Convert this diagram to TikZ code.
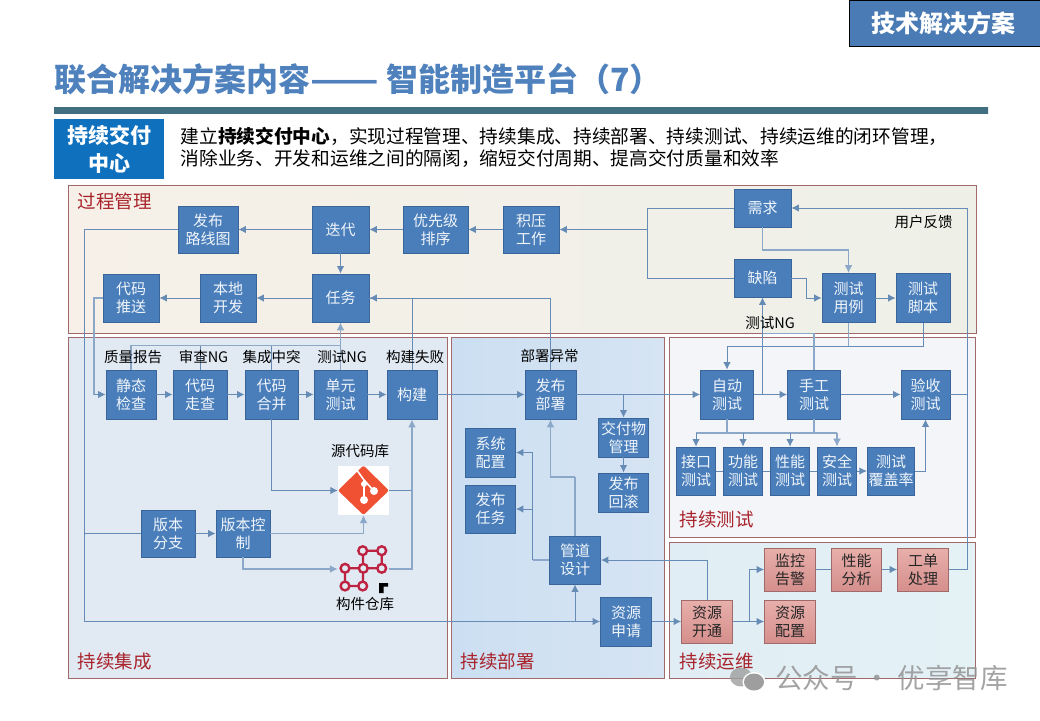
\documentclass[tikz,border=0pt]{standalone}
\usepackage{fontspec}
\setmainfont{Noto Sans CJK SC}
\usepackage{tikz}
\usepackage{xcolor}
\usetikzlibrary{arrows.meta}

\definecolor{boxblue}{HTML}{4A7EBB}
\definecolor{boxedge}{HTML}{3A659A}
\definecolor{flowblue}{HTML}{668CB5}
\definecolor{widelight}{HTML}{8CA8C8}
\definecolor{paneledge}{HTML}{A06A6A}
\definecolor{titlered}{HTML}{A8232B}
\definecolor{headblue}{HTML}{4F81BD}
\definecolor{nexusred}{HTML}{BE2342}
\definecolor{pinktop}{HTML}{E8AFAB}
\definecolor{pinkbottom}{HTML}{D58F8C}
\definecolor{ruleside}{HTML}{3F6F80}
\definecolor{rulemid}{HTML}{4E9CB0}
\definecolor{leadblue}{HTML}{0F70BE}
\definecolor{gitorange}{HTML}{F05133}
\definecolor{panelci}{HTML}{E1E9F3}

\tikzset{
  panelbox/.style={draw=paneledge, line width=0.9pt, inner sep=0pt},
  paneltitle/.style={text=titlered, font=\fontsize{18.5}{22}\selectfont, inner sep=0pt},
  flowbox/.style={draw=boxedge, fill=boxblue, text=white!92!boxblue, line width=0.8pt, inner sep=0pt,
    align=center, font=\fontsize{15}{18}\selectfont},
  pinkbox/.style={draw=paneledge, top color=pinktop, bottom color=pinkbottom,
    text=black!85, line width=0.8pt, inner sep=0pt, align=center, font=\fontsize{15}{18}\selectfont},
  tag/.style={text=black, font=\fontsize{14.5}{17}\selectfont, inner sep=0pt},
  iconbox/.style={inner sep=0pt, minimum width=51, minimum height=49},
  flow/.style={draw=flowblue, line width=1pt},
  flowto/.style={flow, -{Latex[length=7.5pt,width=7.5pt]}},
  wide/.style={draw=widelight, line width=1.6pt},
  wideto/.style={wide, -{Latex[length=8pt,width=8pt]}},
  nexusdot/.style={draw=nexusred, line width=2.4pt, fill=panelci}
}

\begin{document}
\begin{tikzpicture}[x=1pt,y=-1pt]
        \useasboundingbox (0,0) rectangle (1040,720);

        % Draw the header
        \node[draw=black, fill=headblue!95!black, minimum width=191, minimum height=46, inner sep=0pt, line width=0.7pt] (headbox) at (944.5,23) {};
        \node[text=white, font=\fontsize{24}{28}\selectfont\bfseries, inner sep=0pt] (headtext) at (943.5,23) {技术解决方案};
        \node[anchor=west, text=headblue, font=\fontsize{32}{38}\selectfont\bfseries, inner sep=0pt] (pagetitle) at (54,79) {联合解决方案内容\scalebox{1.25}[1]{——} 智能制造平台（7）};
        \fill[left color=ruleside, middle color=rulemid, right color=ruleside] (54,107) rectangle (988,113);
        \node[fill=leadblue, text=white, minimum width=110, minimum height=60, inner sep=0pt, align=center,
          font=\fontsize{21}{28}\selectfont\bfseries] (leadbox) at (109,149) {持续交付\\中心};
        \node[anchor=north west, inner sep=0pt, align=left, font=\fontsize{18.7}{22}\selectfont] (leadtext) at (180.5,127) {建立\textbf{持续交付中心}，实现过程管理、持续集成、持续部署、持续测试、持续运维的闭环管理，\\消除业务、开发和运维之间的隔阂，缩短交付周期、提高交付质量和效率};

        % Draw the panels
        \node[panelbox, left color={rgb,255:red,246;green,240;blue,232}, right color={rgb,255:red,238;green,240;blue,232}, minimum width=908, minimum height=148] (panelproc) at (522,259) {};
        \node[panelbox, fill=panelci, minimum width=379, minimum height=341] (panelcibox) at (257.5,507.5) {};
        \node[panelbox, left color={rgb,255:red,204;green,223;blue,242}, right color={rgb,255:red,214;green,228;blue,243}, minimum width=213, minimum height=341] (paneldep) at (558,507.5) {};
        \node[panelbox, fill={rgb,255:red,243;green,245;blue,248}, minimum width=306, minimum height=200] (paneltest) at (822.5,437) {};
        \node[panelbox, left color={rgb,255:red,224;green,237;blue,244}, right color={rgb,255:red,228;green,241;blue,245}, minimum width=306, minimum height=135.5] (panelops) at (822.5,610.5) {};

        % Panel titles
        \node[paneltitle] (titleproc) at (114.5,201) {过程管理};
        \node[paneltitle] (titleci) at (114.5,661) {持续集成};
        \node[paneltitle] (titledep) at (497.5,661) {持续部署};
        \node[paneltitle] (titletest) at (716.5,519) {持续测试};
        \node[paneltitle] (titleops) at (716.5,661) {持续运维};

        % Process row boxes
        \node[flowbox, minimum width=60, minimum height=47] (roadmap) at (208,229.5) {发布\\路线图};
        \node[flowbox, minimum width=57, minimum height=47] (iterate) at (340.5,229.5) {迭代};
        \node[flowbox, minimum width=65, minimum height=47] (priority) at (435.5,229.5) {优先级\\排序};
        \node[flowbox, minimum width=56, minimum height=47] (backlog) at (531,229.5) {积压\\工作};
        \node[flowbox, minimum width=56, minimum height=48] (pushcode) at (131,298) {代码\\推送};
        \node[flowbox, minimum width=56, minimum height=48] (localdev) at (228,298) {本地\\开发};
        \node[flowbox, minimum width=57, minimum height=48] (task) at (340.5,298) {任务};
        \node[flowbox, minimum width=57, minimum height=38] (demand) at (762.5,208) {需求};
        \node[flowbox, minimum width=57, minimum height=38] (defect) at (762.5,278) {缺陷};
        \node[flowbox, minimum width=53, minimum height=49] (testcase) at (848.5,298) {测试\\用例};
        \node[flowbox, minimum width=54, minimum height=49] (testscript) at (923,298) {测试\\脚本};

        % Integration boxes
        \node[flowbox, minimum width=50, minimum height=49] (staticchk) at (131,394.5) {静态\\检查};
        \node[flowbox, minimum width=54, minimum height=49] (review) at (200,394.5) {代码\\走查};
        \node[flowbox, minimum width=53, minimum height=49] (merge) at (271.5,394.5) {代码\\合并};
        \node[flowbox, minimum width=53, minimum height=49] (unittest) at (340.5,394.5) {单元\\测试};
        \node[flowbox, minimum width=50, minimum height=49] (build) at (412,394.5) {构建};
        \node[flowbox, minimum width=54, minimum height=47] (branch) at (168,533.5) {版本\\分支};
        \node[flowbox, minimum width=54, minimum height=47] (verctrl) at (243,533.5) {版本控\\制};

        % Deployment boxes
        \node[flowbox, minimum width=51, minimum height=49] (deploy) at (550.5,394.5) {发布\\部署};
        \node[flowbox, minimum width=50, minimum height=39] (delivery) at (623.5,437.5) {交付物\\管理};
        \node[flowbox, minimum width=50, minimum height=39] (rollback) at (623.5,492.5) {发布\\回滚};
        \node[flowbox, minimum width=50, minimum height=49] (sysconf) at (490.5,452.5) {系统\\配置};
        \node[flowbox, minimum width=50, minimum height=48] (pubtask) at (490.5,509) {发布\\任务};
        \node[flowbox, minimum width=51, minimum height=48] (pipeline) at (575,560) {管道\\设计};
        \node[flowbox, minimum width=51, minimum height=49] (resreq) at (626,621.5) {资源\\申请};

        % Test boxes
        \node[flowbox, minimum width=53, minimum height=49] (autotest) at (727,394.5) {自动\\测试};
        \node[flowbox, minimum width=53, minimum height=49] (manualtest) at (814,394.5) {手工\\测试};
        \node[flowbox, minimum width=49, minimum height=49] (acceptance) at (925.5,394.5) {验收\\测试};
        \node[flowbox, minimum width=39, minimum height=48] (apitest) at (696,471) {接口\\测试};
        \node[flowbox, minimum width=39, minimum height=48] (functest) at (743,471) {功能\\测试};
        \node[flowbox, minimum width=39, minimum height=48] (perftest) at (790,471) {性能\\测试};
        \node[flowbox, minimum width=39, minimum height=48] (sectest) at (837,471) {安全\\测试};
        \node[flowbox, minimum width=47.5, minimum height=48] (coverage) at (891,471) {测试\\覆盖率};

        % Operations boxes
        \node[pinkbox, minimum width=51, minimum height=43] (resopen) at (707,621.5) {资源\\开通};
        \node[pinkbox, minimum width=51, minimum height=43] (resconf) at (790,621.5) {资源\\配置};
        \node[pinkbox, minimum width=51, minimum height=43] (monitor) at (790,569.5) {监控\\告警};
        \node[pinkbox, minimum width=50, minimum height=43] (perfan) at (856.5,569.5) {性能\\分析};
        \node[pinkbox, minimum width=51, minimum height=43] (ticket) at (923,569.5) {工单\\处理};

        % Repository icons
        \node[iconbox, fill=white] (gitrepo) at (363.5,490.5) {};
        \fill[gitorange, rounded corners=2pt] (363.5,465.5) -- (389,490.5) -- (363.5,515) -- (338,490.5) -- cycle;
        \draw[white, line width=1.6pt] (356,469) -- (364,480) -- (364,500);
        \draw[white, line width=1.6pt] (364,480) -- (374,491);
        \fill[white] (364,500) circle (4);
        \fill[white] (374,491) circle (4);
        \fill[white] (364,484) circle (3);
        \node[iconbox] (nexusrepo) at (363.5,569) {};
        \draw[nexusred, line width=2.2pt] (362.7,550.7) -- (381.7,550.7) -- (381.7,568.3) -- (363.3,568.3) -- (362.7,550.7);
        \draw[nexusred, line width=2.2pt] (345,568.3) -- (363.3,568.3) -- (362.7,586) -- (345,586) -- cycle;
        \foreach \dotx/\doty in {362.7/550.7, 381.7/550.7, 345/568.3, 363.3/568.3, 381.7/568.3, 345/586, 362.7/586}
          \draw[nexusdot] (\dotx,\doty) circle (4.4);
        \fill[black] (379,583) -- (388,583) -- (388,586.5) -- (383.5,586.5) -- (383.5,593) -- (379,593) -- cycle;

        % Junctions of the lines
        \coordinate (railcorner) at (84,621.5);
        \coordinate (pushturn) at (94,394.5);
        \coordinate (ngbus) at (340.5,345.5);
        \coordinate (buildside) at (412,490.5);
        \coordinate (backturn) at (647.5,229.5);
        \coordinate (feedback) at (967,208);
        \coordinate (caseturn) at (848.5,250);
        \coordinate (defectturn) at (806,298);
        \coordinate (scriptbus) at (727,346);
        \coordinate (ngturn) at (762.5,333.5);
        \coordinate (testbus) at (727,433);
        \coordinate (pipeturn) at (575,477);
        \coordinate (pipeside) at (532.5,560);
        \coordinate (opsturn) at (749,569.5);

        % Process lines
        \draw[flowto] (iterate) -- (roadmap);
        \draw[flowto] (priority) -- (iterate);
        \draw[flowto] (backlog) -- (priority);
        \draw[flowto] (iterate) -- (task);
        \draw[flowto] (task) -- (localdev);
        \draw[flowto] (localdev) -- (pushcode);
        \draw[flow] (roadmap.west) -| (railcorner);
        \draw[flowto] (railcorner) -- (resreq.west);
        \draw[flow] (railcorner |- branch.west) -- (branch.west);
        \draw[flowto] (demand.west) -| (backturn) -- (backlog.east);
        \draw[flow] (defect.west) -| (backturn);
        \draw[wideto] (demand.south) |- (caseturn) -- (testcase.north);
        \draw[flow] (defect.east) -- (defect.east -| defectturn) -- (defectturn);
        \draw[flowto] (defectturn) -- (testcase.west);
        \draw[flowto] (testcase) -- (testscript);

        % Integration lines
        \draw[wide] (pushcode.west) -| (pushturn);
        \draw[flowto] (pushturn) -- (staticchk.west);
        \draw[flowto] (staticchk) -- (review);
        \draw[flowto] (review) -- (merge);
        \draw[flowto] (merge) -- (unittest);
        \draw[flowto] (unittest) -- (build);
        \draw[wide] (staticchk.north) |- (ngbus);
        \draw[flow] (review.north) -- (review.north |- ngbus);
        \draw[flow] (merge.north) -- (merge.north |- ngbus);
        \draw[wideto] (unittest.north) -- (task.south);
        \draw[flowto] (build.north) |- (task.east);
        \draw[flowto] (branch) -- (verctrl);
        \draw[wideto] (verctrl.east) -| (gitrepo.south);
        \draw[wideto] (verctrl.south) |- (nexusrepo.west);
        \draw[flowto] (merge.south) |- (gitrepo.west);
        \draw[flow] (gitrepo.east) -- (buildside);
        \draw[wide] (nexusrepo.east) -| (buildside);
        \draw[wideto] (buildside) -- (build.south);

        % Deployment lines
        \draw[flowto] (build) -- (deploy);
        \draw[flowto] (deploy) -- (autotest);
        \draw[flow] (deploy.north) |- (task.east);
        \draw[flowto] (deploy.east -| delivery.north) -- (delivery.north);
        \draw[flowto] (delivery) -- (rollback);
        \draw[wide] (pipeline.north) -- (pipeturn);
        \draw[wideto] (pipeturn) -| (deploy.south);
        \draw[wide] (pipeline.west) -- (pipeside);
        \draw[flowto] (pipeside) |- (sysconf.east);
        \draw[flowto] (pipeside |- pubtask.east) -- (pubtask.east);
        \draw[flowto] (pipeline.south |- railcorner) -- (pipeline.south);
        \draw[flowto] (resopen.north) |- (pipeline.east);
        \draw[flowto] (resreq) -- (resopen);

        % Test lines
        \draw[flow] (testscript.south) |- (testcase.south |- scriptbus);
        \draw[wide] (testcase.south) -- (testcase.south |- scriptbus);
        \draw[flowto] (testcase.south |- scriptbus) -- (scriptbus) -- (autotest.north);
        \draw[flowto] (autotest) -- (manualtest);
        \draw[flowto] (manualtest) -- (acceptance);
        \draw[flowto] (ngturn |- autotest.east) -- (defect.south);
        \draw[wide] (manualtest.north) |- (ngturn);
        \draw[wide] (autotest.south) -- (testbus);
        \draw[wide] (manualtest.south) -- (manualtest.south |- testbus);
        \draw[wide] (apitest.north |- testbus) -- (sectest.north |- testbus);
        \draw[flowto] (apitest.north |- testbus) -- (apitest.north);
        \draw[flowto] (functest.north |- testbus) -- (functest.north);
        \draw[flowto] (perftest.north |- testbus) -- (perftest.north);
        \draw[wideto] (sectest.north |- testbus) -- (sectest.north);
        \draw[flow] (apitest) -- (functest);
        \draw[flow] (functest) -- (perftest);
        \draw[flow] (perftest) -- (sectest);
        \draw[flowto] (sectest) -- (coverage);
        \draw[flowto] (coverage.east) -| (acceptance.south);

        % Operations lines
        \draw[flowto] (resopen) -- (resconf);
        \draw[flow] (opsturn |- resopen.east) -- (opsturn);
        \draw[flowto] (opsturn) -- (monitor.west);
        \draw[flow] (monitor) -- (perfan);
        \draw[flowto] (perfan) -- (ticket);
        \draw[flow] (ticket.east) -| (feedback);
        \draw[flowto] (feedback) -- (demand.east);
        \draw[flow] (acceptance.east) -- (acceptance.east -| feedback);

        % Label the lines
        \node[tag] (tagquality) at (133,357) {质量报告};
        \node[tag] (tagreview) at (203.5,357) {审查NG};
        \node[tag] (tagmerge) at (271.5,357) {集成中突};
        \node[tag] (tagunit) at (342,357) {测试NG};
        \node[tag] (tagbuild) at (415,357) {构建失败};
        \node[tag] (tagdeploy) at (549.5,356) {部署异常};
        \node[tag] (tagtest) at (770,323.5) {测试NG};
        \node[tag] (tagfeedback) at (923.5,222) {用户反馈};
        \node[tag] (taggit) at (360,451) {源代码库};
        \node[tag] (tagnexus) at (365,604) {构件仓库};

        % Watermark
        \fill[black!38, opacity=0.8] (741,677) ellipse (11 and 9.5);
        \fill[white] (754,682) ellipse (11.5 and 10);
        \fill[black!38] (754,682) ellipse (10 and 8.5);
        \node[anchor=west, text=black!42, text opacity=0.85, inner sep=0pt, font=\fontsize{27.5}{32}\selectfont] (wmtext) at (775,678) {公众号 · 优享智库};
\end{tikzpicture}
\end{document}
